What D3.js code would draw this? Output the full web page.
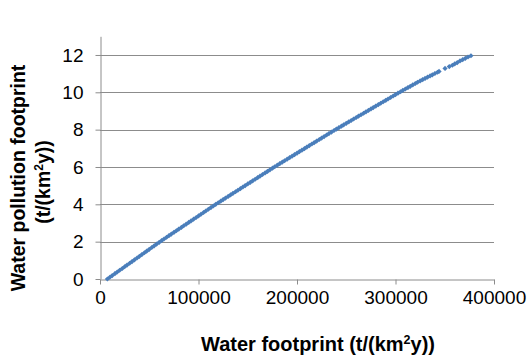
<!DOCTYPE html>
<html>
<head>
<meta charset="utf-8">
<script src="https://cdn.jsdelivr.net/npm/d3@7"></script>
<style>
  html, body { margin: 0; padding: 0; background: #fff; }
  svg { display: block; }
</style>
</head>
<body>
<svg id="chart" width="529" height="358"></svg>
<script>
// Water footprint (t/(km²y)) for each sample
const waterFootprint = [
  7500, 10000, 12400, 15100, 17500, 20000, 22600, 25000, 27400, 30100, 32500, 35000,
  37600, 40000, 42500, 45100, 47400, 50000, 52600, 55000, 57500, 60100,
  62500, 65000, 67600, 70000, 72400, 75100, 77500, 80000, 82600, 85000, 87500, 90100,
  92400, 95000, 97600, 100000, 102500, 105100, 107400, 110000, 112600, 115000, 117500,
  120000, 122600, 125000, 127400, 130100, 132500, 135000, 137600, 140000, 142500, 145100,
  147400, 150000, 152600, 155000, 157500, 160100, 162400, 165000, 167600, 170000, 172500,
  175100, 177400,
  180000, 182500, 185100, 187400, 190000, 192600, 195000, 197500, 200100, 202400, 205000,
  207600, 210000, 212500, 215100, 217400, 220000, 222600, 225000, 227500, 230100, 232400,
  235000, 237600,
  240000, 242500, 245100, 247400, 250000, 252600, 255000, 257500, 260100, 262400, 265000,
  267600, 270000, 272500, 275100, 277400, 280000, 282600, 285000, 287500, 290100, 292400,
  295000, 297600, 300000, 302500,
  305100, 307400, 310000, 312600, 315000, 317500, 320100, 322400, 325000, 327600, 330000,
  332500, 335100, 337400, 340000, 342600, 344200,
  350300, 354600, 357700, 360100, 362700, 365500, 368200, 370900, 373600, 376600
];

// Water pollution footprint (t/(km²y)) for the same samples
const waterPollutionFootprint = [
  0.000, 0.093, 0.183, 0.284, 0.374, 0.467, 0.564, 0.654, 0.744, 0.845, 0.935, 1.028,
  1.125, 1.215, 1.308, 1.405, 1.491, 1.589, 1.686, 1.776, 1.869, 1.966,
  2.053, 2.142, 2.234, 2.319, 2.404, 2.499, 2.584, 2.673, 2.765, 2.850, 2.938, 3.030,
  3.112, 3.204, 3.296, 3.381, 3.469, 3.561, 3.643, 3.735, 3.827, 3.912, 4.000,
  4.084, 4.171, 4.252, 4.333, 4.423, 4.504, 4.588, 4.675, 4.756, 4.840, 4.927,
  5.005, 5.092, 5.179, 5.260, 5.344, 5.431, 5.509, 5.596, 5.683, 5.764, 5.848,
  5.935, 6.013,
  6.097, 6.177, 6.261, 6.336, 6.419, 6.503, 6.581, 6.661, 6.745, 6.819, 6.903,
  6.987, 7.065, 7.145, 7.229, 7.303, 7.387, 7.471, 7.548, 7.629, 7.713, 7.787,
  7.871, 7.955,
  8.031, 8.108, 8.188, 8.258, 8.338, 8.418, 8.492, 8.569, 8.649, 8.720, 8.800,
  8.880, 8.954, 9.031, 9.111, 9.182, 9.262, 9.342, 9.415, 9.492, 9.572, 9.643,
  9.723, 9.803, 9.877, 9.954,
  10.032, 10.100, 10.176, 10.252, 10.322, 10.396, 10.472, 10.539, 10.612, 10.681, 10.744,
  10.810, 10.878, 10.938, 11.007, 11.075, 11.117,
  11.28, 11.38, 11.45, 11.52, 11.59, 11.68, 11.75, 11.82, 11.89, 11.96
];

const xTicks = [0, 100000, 200000, 300000, 400000];
const yTicks = [0, 2, 4, 6, 8, 10, 12];

const points = waterFootprint.map((wf, i) => ({ wf, wpf: waterPollutionFootprint[i] }));

const svg = d3.select("#chart");
const plot = { left: 100, right: 494, top: 36.3, bottom: 279 };

const x = d3.scaleLinear().domain([0, 400000]).range([plot.left, plot.right]);
const y = d3.scaleLinear().domain([0, 13]).range([plot.bottom, plot.top]);

const gridColor = "#8c8c8c";
const font = "'Liberation Sans', Arial, Helvetica, sans-serif";

// horizontal gridlines
svg.append("g")
  .selectAll("line")
  .data(yTicks.filter(d => d > 0))
  .join("line")
  .attr("x1", plot.left).attr("x2", plot.right)
  .attr("y1", d => Math.round(y(d)) + 0.5).attr("y2", d => Math.round(y(d)) + 0.5)
  .attr("stroke", gridColor).attr("stroke-width", 1);

// x axis
const xAxis = svg.append("g")
  .attr("transform", `translate(0,${Math.round(y(0)) + 0.5})`)
  .call(d3.axisBottom(x).tickValues(xTicks).tickFormat(d3.format("d")).tickSize(5).tickPadding(6).tickSizeOuter(0));
xAxis.select(".domain").attr("stroke", gridColor);
xAxis.selectAll(".tick line").attr("stroke", gridColor);
xAxis.selectAll(".tick text")
  .attr("font-family", font).attr("font-size", 19).attr("fill", "#000");

// y axis
const yAxis = svg.append("g")
  .attr("transform", `translate(${Math.round(x(0)) + 0.5},0)`)
  .call(d3.axisLeft(y).tickValues(yTicks).tickSize(5).tickPadding(12).tickSizeOuter(0));
yAxis.select(".domain").attr("stroke", gridColor);
yAxis.selectAll(".tick line").attr("stroke", gridColor);
yAxis.selectAll(".tick text")
  .attr("font-family", font).attr("font-size", 19).attr("fill", "#000");

// data markers
svg.append("g")
  .selectAll("path")
  .data(points)
  .join("path")
  .attr("transform", d => `translate(${x(d.wf)},${y(d.wpf)})`)
  .attr("d", d3.symbol().type(d3.symbolDiamond2).size(17))
  .attr("fill", "#4a7ebb");

// axis titles
const xTitle = svg.append("text")
  .attr("x", 318).attr("y", 350.5)
  .attr("text-anchor", "middle")
  .attr("font-family", font).attr("font-size", 20).attr("font-weight", "bold");
xTitle.append("tspan").text("Water footprint (t/(km");
xTitle.append("tspan").attr("font-size", 12.5).attr("dy", -7).text("2");
xTitle.append("tspan").attr("dy", 7).text("y))");

const yTitle = svg.append("text")
  .attr("transform", "translate(0,178) rotate(-90)")
  .attr("text-anchor", "middle")
  .attr("font-family", font).attr("font-size", 19.5).attr("font-weight", "bold");
yTitle.append("tspan").attr("x", 0).attr("y", 25).text("Water pollution footprint");
const line2 = svg.append("text")
  .attr("transform", "translate(0,182) rotate(-90)")
  .attr("text-anchor", "middle")
  .attr("font-family", font).attr("font-size", 19.5).attr("font-weight", "bold");
line2.append("tspan").attr("x", 0).attr("y", 50).text("(t/(km");
line2.append("tspan").attr("font-size", 12).attr("dy", -7).text("2");
line2.append("tspan").attr("dy", 7).text("y))");
</script>
</body>
</html>
